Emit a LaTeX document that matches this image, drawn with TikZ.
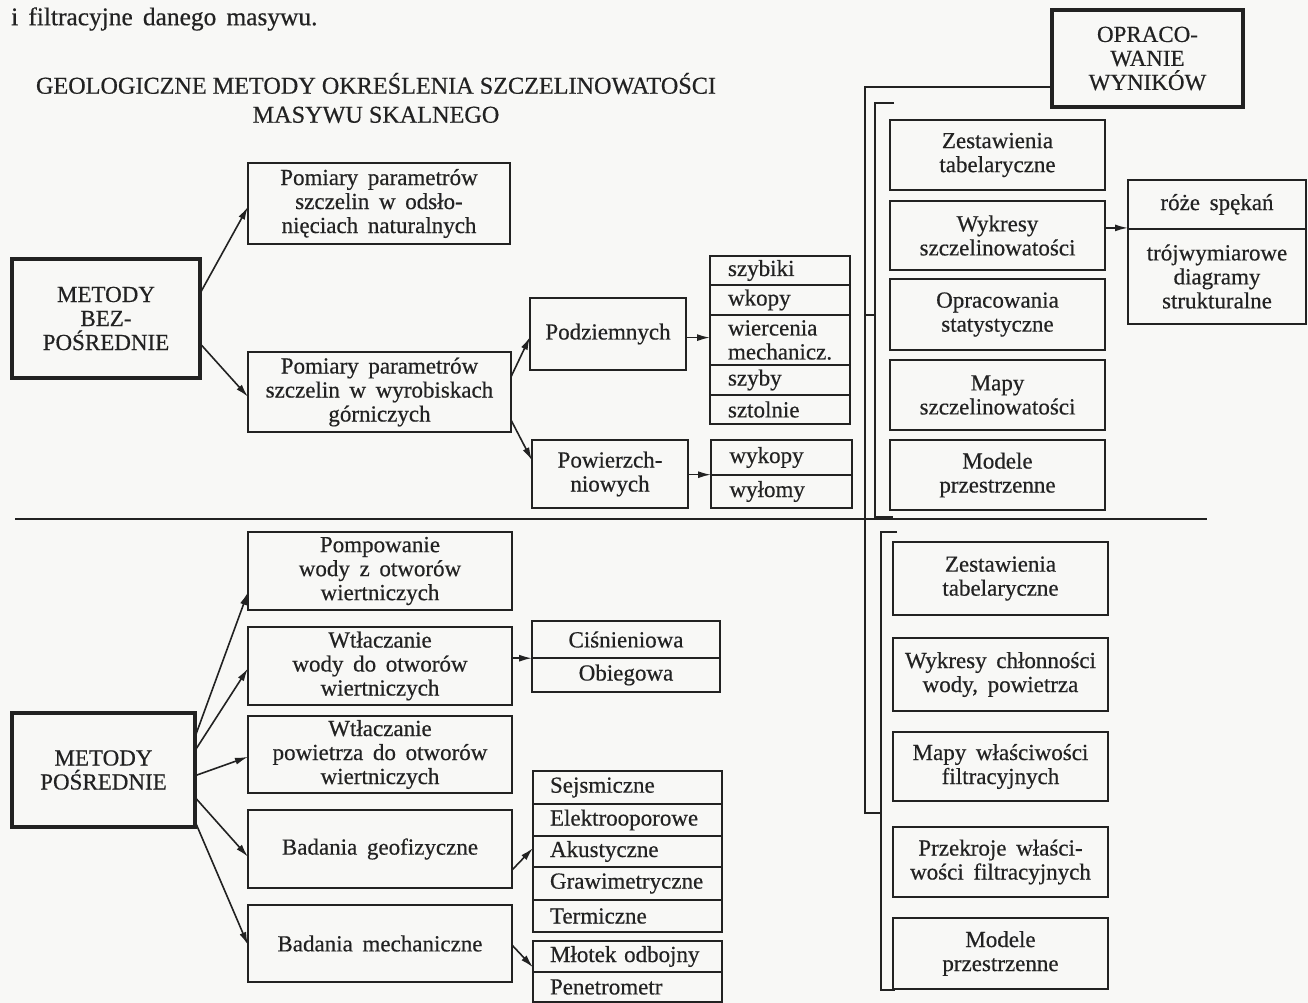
\documentclass[tikz,border=0pt]{standalone}
\usepackage{fontspec}
\setmainfont[FakeBold=0.5]{Liberation Serif}
\usetikzlibrary{arrows.meta,calc}
\definecolor{ink}{RGB}{34,34,34}
\definecolor{paper}{RGB}{248,248,246}
\newcommand{\dfont}{\fontsize{23}{24}\selectfont\spaceskip=0.42em plus 0.1em minus 0.05em\relax}
\newcommand{\tfont}{\fontsize{25.4}{27}\selectfont\spaceskip=0.4em plus 0.1em\relax}
\newcommand{\hfont}{\fontsize{24.2}{29}\selectfont}
\tikzset{
 corners/.style n args={4}{minimum width={#3-#1}, minimum height={#4-#2}, at={({(#1+#3)/2},{(#2+#4)/2})}},
 bigbox/.style={draw=ink, line width=4pt, inner sep=0pt, outer sep=0pt, align=center, font=\dfont, text=ink},
 box/.style={draw=ink, line width=2.8pt, inner sep=0pt, outer sep=0pt, align=center, font=\dfont, text=ink},
 cell/.style={draw=ink, line width=2pt, inner sep=0pt, outer sep=0pt, align=center, font=\dfont, text=ink},
 cellL/.style={draw=ink, line width=2pt, inner sep=0pt, outer sep=0pt, font=\dfont, text=ink, text width=#1, align=left},
 conn/.style={draw=ink, line width=1.6pt, -{Latex[length=13pt,width=7pt]}},
 rule/.style={draw=ink, line width=2pt},
}
\begin{document}
\begin{tikzpicture}[x=1pt,y=-1pt]
\fill[paper] (0,0) rectangle (1308,1003);
\useasboundingbox (0,0) rectangle (1308,1003);

% texts
\node[anchor=west, font=\tfont, text=ink, inner sep=0pt] (toptext) at (11,19) {i filtracyjne danego masywu.};
\node[align=center, font=\hfont, text=ink, inner sep=0pt] (title) at (376,98) {GEOLOGICZNE METODY OKREŚLENIA SZCZELINOWATOŚCI\\MASYWU SKALNEGO};

% upper left
\node[bigbox, corners={12}{259}{200}{378}] (mb) {METODY\\BEZ-\\POŚREDNIE};
\node[box, corners={248}{163}{510}{244}] (p1) {Pomiary parametrów\\szczelin w odsło-\\nięciach naturalnych};
\node[box, corners={248}{352}{511}{432}] (p2) {Pomiary parametrów\\szczelin w wyrobiskach\\górniczych};
\node[box, corners={530}{298}{686}{370}] (pod) {Podziemnych};
\node[box, corners={532}{440}{688}{508}] (pow) {Powierzch-\\niowych};

\node[cellL=104pt, corners={710}{256}{850}{285}] (l11) {szybiki};
\node[cellL=104pt, corners={710}{285}{850}{315}] (l12) {wkopy};
\node[cellL=104pt, corners={710}{315}{850}{365}] (l13) {wiercenia\\mechanicz.};
\node[cellL=104pt, corners={710}{365}{850}{395}] (l14) {szyby};
\node[cellL=104pt, corners={710}{395}{850}{424}] (l15) {sztolnie};
\node[cellL=104pt, corners={711}{440}{852}{475}] (l21) {wykopy};
\node[cellL=104pt, corners={711}{475}{852}{508}] (l22) {wyłomy};

% upper right
\node[bigbox, corners={1052}{10}{1243}{107}] (op) {OPRACO-\\WANIE\\WYNIKÓW};
\node[box, corners={890}{120}{1105}{190}] (u1) {Zestawienia\\tabelaryczne};
\node[box, corners={890}{201}{1105}{270}] (u2) {Wykresy\\szczelinowatości};
\node[box, corners={890}{279}{1105}{350}] (u3) {Opracowania\\statystyczne};
\node[box, corners={890}{360}{1105}{430}] (u4) {Mapy\\szczelinowatości};
\node[box, corners={890}{440}{1105}{510}] (u5) {Modele\\przestrzenne};
\node[cell, corners={1128}{180}{1306}{229}] (rz1) {róże spękań};
\node[cell, corners={1128}{229}{1306}{324}] (rz2) {trójwymiarowe\\diagramy\\strukturalne};

% lower left
\node[bigbox, corners={12}{713}{195}{827}] (mp) {METODY\\POŚREDNIE};
\node[box, corners={248}{532}{512}{610}] (pomp) {Pompowanie\\wody z otworów\\wiertniczych};
\node[box, corners={248}{627}{512}{705}] (wtw) {Wtłaczanie\\wody do otworów\\wiertniczych};
\node[box, corners={248}{716}{512}{793}] (wtp) {Wtłaczanie\\powietrza do otworów\\wiertniczych};
\node[box, corners={248}{810}{512}{888}] (bg) {Badania geofizyczne};
\node[box, corners={248}{905}{512}{982}] (bm) {Badania mechaniczne};

\node[cell, corners={532}{621}{720}{658}] (cis) {Ciśnieniowa};
\node[cell, corners={532}{658}{720}{692}] (obi) {Obiegowa};

\node[cellL=155pt, corners={533}{771}{722}{804}] (g1) {Sejsmiczne};
\node[cellL=155pt, corners={533}{804}{722}{836}] (g2) {Elektrooporowe};
\node[cellL=155pt, corners={533}{836}{722}{867}] (g3) {Akustyczne};
\node[cellL=155pt, corners={533}{867}{722}{900}] (g4) {Grawimetryczne};
\node[cellL=155pt, corners={533}{900}{722}{932}] (g5) {Termiczne};
\node[cellL=155pt, corners={533}{941}{722}{972}] (m1) {Młotek odbojny};
\node[cellL=155pt, corners={533}{972}{722}{1002}] (m2) {Penetrometr};

% lower right
\node[box, corners={893}{542}{1108}{615}] (d1) {Zestawienia\\tabelaryczne};
\node[box, corners={893}{638}{1108}{711}] (d2) {Wykresy chłonności\\wody, powietrza};
\node[box, corners={893}{732}{1108}{801}] (d3) {Mapy właściwości\\filtracyjnych};
\node[box, corners={893}{827}{1108}{897}] (d4) {Przekroje właści-\\wości filtracyjnych};
\node[box, corners={893}{918}{1108}{989}] (d5) {Modele\\przestrzenne};

% divider and brackets
\coordinate (divL) at (15,519);
\coordinate (divR) at (1207,519);
\draw[ink, line width=2.2pt] (divL) -- (divR);

\coordinate (opL) at ($(op.north west)!0.79!(op.south west)$);
\coordinate (outerB) at (865,813);
\coordinate (lowJ) at (881,813);
\draw[rule] (opL) -| (outerB) -- (lowJ);
\coordinate (ub1) at (894,103);
\coordinate (ub2) at (875,103);
\coordinate (ub3) at (875,517);
\coordinate (ub4) at (893,517);
\draw[rule] (ub1) -- (ub2) -- (ub3) -- (ub4);
\coordinate (uj1) at (865,315);
\coordinate (uj2) at (875,315);
\draw[rule] (uj1) -- (uj2);
\coordinate (lb1) at (897,532);
\coordinate (lb2) at (881,532);
\coordinate (lb3) at (881,990);
\coordinate (lb4) at (895,990);
\draw[rule] (lb1) -- (lb2) -- (lb3) -- (lb4);

% connectors upper
\draw[conn] ($(mb.north east)!0.29!(mb.south east)$) -- ($(p1.north west)!0.54!(p1.south west)$);
\draw[conn] ($(mb.north east)!0.71!(mb.south east)$) -- ($(p2.north west)!0.56!(p2.south west)$);
\draw[conn] ($(p2.north east)!0.31!(p2.south east)$) -- ($(pod.north west)!0.54!(pod.south west)$);
\draw[conn] ($(p2.north east)!0.85!(p2.south east)$) -- ($(pow.north west)!0.30!(pow.south west)$);
\coordinate (podE) at ($(pod.north east)!0.55!(pod.south east)$);
\draw[conn] (podE) -- (podE -| l13.west);
\coordinate (powE) at ($(pow.north east)!0.51!(pow.south east)$);
\draw[conn] (powE) -- (powE -| l21.west);
\coordinate (u2E) at ($(u2.north east)!0.39!(u2.south east)$);
\draw[conn] (u2E) -- (u2E -| rz1.west);

% connectors lower
\draw[conn] ($(mp.north east)!0.21!(mp.south east)$) -- ($(pomp.north west)!0.77!(pomp.south west)$);
\draw[conn] ($(mp.north east)!0.33!(mp.south east)$) -- ($(wtw.north west)!0.53!(wtw.south west)$);
\draw[conn] ($(mp.north east)!0.55!(mp.south east)$) -- ($(wtp.north west)!0.53!(wtp.south west)$);
\draw[conn] ($(mp.north east)!0.74!(mp.south east)$) -- ($(bg.north west)!0.60!(bg.south west)$);
\draw[conn] ($(mp.north east)!0.95!(mp.south east)$) -- ($(bm.north west)!0.52!(bm.south west)$);
\coordinate (wtwE) at ($(wtw.north east)!0.40!(wtw.south east)$);
\draw[conn] (wtwE) -- (wtwE -| cis.west);
\draw[conn] ($(bg.north east)!0.77!(bg.south east)$) -- ($(g3.north west)!0.39!(g3.south west)$);
\draw[conn] ($(bm.north east)!0.52!(bm.south east)$) -- ($(m1.north west)!0.85!(m1.south west)$);
\end{tikzpicture}
\end{document}
